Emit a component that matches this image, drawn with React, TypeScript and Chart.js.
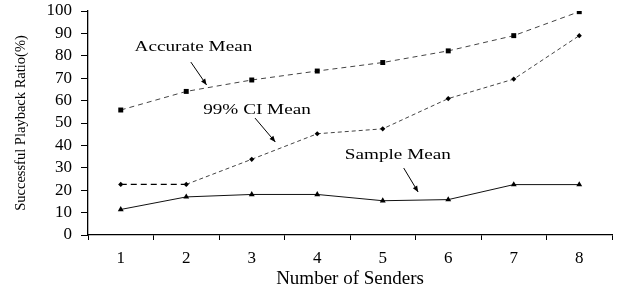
import React, { useEffect, useRef } from "react";
import { Chart, registerables } from "chart.js";

Chart.register(...registerables);

const categories = ["1", "2", "3", "4", "5", "6", "7", "8"];
const accurateMean = [55.8, 64.1, 69.2, 73.2, 77.0, 82.2, 89.0, 99.7];
const ciMean = [22.6, 22.6, 33.8, 45.2, 47.4, 60.9, 69.6, 89.0];
const sampleMean = [11.4, 17.0, 18.1, 18.1, 15.3, 15.8, 22.5, 22.5];
const yTicks = [0, 10, 20, 30, 40, 50, 60, 70, 80, 90, 100];

// annotation labels in data space: [x index, y value]
const annotationLabels = ["Accurate Mean", "99% CI Mean", "Sample Mean"];
const annotationText = [[1.11, 84.0], [2.08, 55.8], [4.23, 35.7]];
const annotationArrowFrom = [[1.07, 77.2], [2.05, 52.2], [4.32, 29.9]];
const annotationArrowTo = [[1.31, 67.0], [2.36, 41.5], [4.54, 19.2]];

const FONT = "'Liberation Serif', 'Times New Roman', serif";

const annotationPlugin = {
  id: "annot",
  afterDatasetsDraw(chart: any) {
    const { ctx, scales } = chart;
    const xs = scales.x;
    const ys = scales.y;
    ctx.save();
    ctx.fillStyle = "#000";
    ctx.strokeStyle = "#000";
    annotationLabels.forEach((label, i) => {
      const tx = xs.getPixelForValue(annotationText[i][0]);
      const ty = ys.getPixelForValue(annotationText[i][1]);
      ctx.save();
      ctx.font = `14px ${FONT}`;
      ctx.textAlign = "center";
      ctx.textBaseline = "middle";
      ctx.translate(tx, ty);
      ctx.scale(1.37, 1);
      ctx.fillText(label, 0, 0);
      ctx.restore();
      const x1 = xs.getPixelForValue(annotationArrowFrom[i][0]);
      const y1 = ys.getPixelForValue(annotationArrowFrom[i][1]);
      const x2 = xs.getPixelForValue(annotationArrowTo[i][0]);
      const y2 = ys.getPixelForValue(annotationArrowTo[i][1]);
      ctx.lineWidth = 1;
      ctx.beginPath();
      ctx.moveTo(x1, y1);
      ctx.lineTo(x2, y2);
      ctx.stroke();
      const ang = Math.atan2(y2 - y1, x2 - x1);
      const L = 6;
      const W = 2.5;
      ctx.beginPath();
      ctx.moveTo(x2, y2);
      ctx.lineTo(x2 - L * Math.cos(ang) + W * Math.sin(ang), y2 - L * Math.sin(ang) - W * Math.cos(ang));
      ctx.lineTo(x2 - L * Math.cos(ang) - W * Math.sin(ang), y2 - L * Math.sin(ang) + W * Math.cos(ang));
      ctx.closePath();
      ctx.fill();
    });
    ctx.restore();
  },
};

export default function App() {
  const ref = useRef<HTMLCanvasElement>(null);
  useEffect(() => {
    if (!ref.current) return;
    const chart = new Chart(ref.current, {
      type: "line",
      data: {
        labels: categories,
        datasets: [
          {
            label: "Accurate Mean",
            data: accurateMean,
            borderColor: "#444",
            borderWidth: 1,
            borderDash: [5, 4],
            pointStyle: "rect",
            pointRadius: 3.5,
            pointBackgroundColor: "#000",
            pointBorderColor: "#000",
            pointBorderWidth: 0,
            tension: 0,
          },
          {
            label: "99% CI Mean",
            data: ciMean,
            borderColor: "#444",
            borderWidth: 1,
            borderDash: [4, 3],
            segment: {
              borderDash: (c: any) => (c.p0DataIndex === 0 ? [6, 4] : [4, 3]),
              borderWidth: (c: any) => (c.p0DataIndex === 0 ? 1.3 : 1),
              borderColor: (c: any) => (c.p0DataIndex === 0 ? "#000" : "#444"),
            },
            pointStyle: "rectRot",
            pointRadius: 2.6,
            pointBackgroundColor: "#000",
            pointBorderColor: "#000",
            pointBorderWidth: 0,
            tension: 0,
          },
          {
            label: "Sample Mean",
            data: sampleMean,
            borderColor: "#111",
            borderWidth: 1,
            pointStyle: "triangle",
            pointRadius: 3.4,
            pointBackgroundColor: "#000",
            pointBorderColor: "#000",
            pointBorderWidth: 0,
            tension: 0,
          },
        ],
      },
      options: {
        animation: false,
        responsive: true,
        maintainAspectRatio: false,
        layout: { padding: { top: 0, right: 9, left: 6, bottom: 0 } },
        plugins: { legend: { display: false }, tooltip: { enabled: false } },
        scales: {
          x: {
            offset: true,
            afterFit: (s: any) => {
              s.height = 55;
            },
            grid: {
              offset: true,
              drawOnChartArea: false,
              drawTicks: true,
              tickLength: 5,
              color: "#000",
            },
            border: { color: "#000", width: 1.3 },
            ticks: { color: "#000", font: { family: FONT, size: 17 }, padding: 8 },
            title: {
              display: true,
              text: "Number of Senders",
              color: "#000",
              font: { family: FONT, size: 19 },
              padding: { top: 0, bottom: 0 },
            },
          },
          y: {
            min: 0,
            max: 100,
            afterFit: (s: any) => {
              s.width = 82;
              s.paddingTop = 11;
              s.paddingBottom = 0;
            },
            afterBuildTicks: (s: any) => {
              s.ticks = yTicks.map((v) => ({ value: v }));
            },
            grid: {
              drawOnChartArea: false,
              drawTicks: true,
              tickLength: 7,
              color: "#000",
            },
            border: { color: "#000", width: 1.3 },
            ticks: { color: "#000", font: { family: FONT, size: 17 }, padding: 9, autoSkip: false },
            title: {
              display: true,
              text: "Successful Playback Ratio(%)",
              color: "#000",
              font: { family: FONT, size: 14.5 },
              padding: { top: 6, bottom: 0 },
            },
          },
        },
      },
      plugins: [annotationPlugin],
    });
    return () => chart.destroy();
  }, []);
  return (
    <div style={{ position: "fixed", left: 0, top: 0, width: 621, height: 290, background: "#fff" }}>
      <canvas ref={ref} />
    </div>
  );
}
